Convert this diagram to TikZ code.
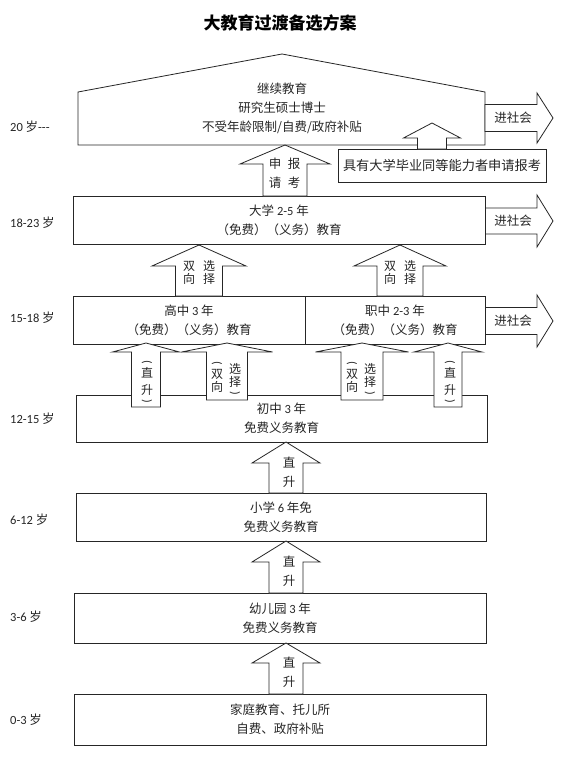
\documentclass[tikz,border=0pt]{standalone}
\usepackage{fontspec}
\setmainfont{Noto Sans CJK SC}
\newfontfamily\lat{Carlito}
\newcommand\blockup[6]{% cx, tip y, head base y, bottom y, shaft half, head half
  \filldraw[arr] ({#1-#5},#4) -- ({#1-#5},#3) -- ({#1-#6},#3) -- (#1,#2) -- ({#1+#6},#3) -- ({#1+#5},#3) -- ({#1+#5},#4) -- cycle;}
\newcommand\blockright[6]{% y center, x start, x head base, x tip, shaft half, head half
  \filldraw[arr] (#2,{#1-#5}) -- (#3,{#1-#5}) -- (#3,{#1-#6}) -- (#4,#1) -- (#3,{#1+#6}) -- (#3,{#1+#5}) -- (#2,{#1+#5}) -- cycle;}
\tikzset{
  box/.style={draw=black!85, line width=0.8pt, fill=white, inner sep=0pt, outer sep=0pt, align=center,
    font=\fontsize{12.5}{19}\selectfont, text=black!85},
  arr/.style={draw=black!85, line width=0.8pt, fill=white},
  txt/.style={inner sep=0pt, align=center, font=\fontsize{12.5}{19}\selectfont, text=black!85},
  vt/.style={inner sep=0pt, font=\fontsize{12}{13}\selectfont, text=black!85},
  lab/.style={inner sep=0pt, anchor=west, font=\fontsize{12.5}{15}\selectfont, text=black!85},
}
\begin{document}
\begin{tikzpicture}[x=1pt,y=-1pt]
\useasboundingbox (0,0) rectangle (560,768);
\fill[white] (0,0) rectangle (560,768);

% title
\node[inner sep=0pt, font=\fontsize{17}{20}\selectfont\bfseries] (title) at (280,23) {大教育过渡备选方案};

% age labels
\node[lab] (l20) at (10,127) {{\lat 20} 岁{\lat -{}-{}-}};
\node[lab] (l18) at (10,223) {{\lat 18-23} 岁};
\node[lab] (l15) at (10,318) {{\lat 15-18} 岁};
\node[lab] (l12) at (10,419) {{\lat 12-15} 岁};
\node[lab] (l6)  at (10,520) {{\lat 6-12} 岁};
\node[lab] (l3)  at (10,617) {{\lat 3-6} 岁};
\node[lab] (l0)  at (10,720) {{\lat 0-3} 岁};

% continuing education (pentagon)
\filldraw[arr] (78,145) -- (78,92) -- (282,54) -- (485,92) -- (485,145) -- cycle;
\node[txt] (cont) at (282,108) {继续教育\\研究生硕士博士\\不受年龄限制/自费/政府补贴};

% right arrows
\blockright{118}{485}{537}{553}{13.5}{25}
\node[txt] (out1) at (513,118) {进社会};
\blockright{221}{485}{537}{553}{13}{26}
\node[txt] (out2) at (513,221) {进社会};
\blockright{321}{485}{537}{553}{13.5}{26}
\node[txt] (out3) at (513,321) {进社会};

% equivalent ability box
\node[box, minimum width=208, minimum height=33, font=\fontsize{13.2}{19}\selectfont] (equiv) at (442,165.5) {具有大学毕业同等能力者申请报考};
\blockup{432}{123}{138}{149}{14.5}{28.5}

% university
\node[box, minimum width=412, minimum height=48] (univ) at (279,220) {大学 {\lat 2-5} 年\\（免费）（义务）教育};
\blockup{285}{145}{164}{196}{22}{45}
\node[txt] at (275,164) {申}; \node[txt] at (294,164) {报};
\node[txt] at (275,183) {请}; \node[txt] at (294,183) {考};

% high school / vocational
\node[box, minimum width=232, minimum height=48] (hs) at (189,320) {高中 {\lat 3} 年\\（免费）（义务）教育};
\node[box, minimum width=180, minimum height=48] (vs) at (395,320) {职中 {\lat 2-3} 年\\（免费）（义务）教育};

\blockup{199}{245}{266}{296}{23.5}{47}
\node[vt] at (189,266) {双}; \node[vt] at (209,266) {选};
\node[vt] at (189,279) {向}; \node[vt] at (209,279) {择};
\blockup{400}{245}{266}{296}{23}{46}
\node[vt] at (390,266) {双}; \node[vt] at (410,266) {选};
\node[vt] at (390,279) {向}; \node[vt] at (410,279) {择};

% junior middle school
\node[box, minimum width=411, minimum height=47] (jr) at (281.5,418.5) {初中 {\lat 3} 年\\免费义务教育};

\blockup{146}{343}{352}{407}{14.5}{33.5}
\node[vt, rotate=-90] at (147,362) {\lat (};
\node[vt] at (147,373) {直}; \node[vt] at (147,390) {升};
\node[vt, rotate=-90] at (147,401) {\lat )};

\blockup{227}{343}{352}{400}{20.5}{45.5}
\node[vt, rotate=-90] at (217,363) {\lat (};
\node[vt] at (217,374) {双}; \node[vt] at (217,387) {向};
\node[vt] at (235,369) {选}; \node[vt] at (235,382) {择};
\node[vt, rotate=-90] at (235,393) {\lat )};

\blockup{362}{343}{352}{400}{21}{46.5}
\node[vt, rotate=-90] at (352,363) {\lat (};
\node[vt] at (352,374) {双}; \node[vt] at (352,387) {向};
\node[vt] at (370,369) {选}; \node[vt] at (370,382) {择};
\node[vt, rotate=-90] at (370,393) {\lat )};

\blockup{448}{343}{352}{407}{14}{34}
\node[vt, rotate=-90] at (450,362) {\lat (};
\node[vt] at (450,373) {直}; \node[vt] at (450,390) {升};
\node[vt, rotate=-90] at (450,401) {\lat )};

% primary
\node[box, minimum width=410, minimum height=48] (pri) at (281,517) {小学 {\lat 6} 年免\\免费义务教育};
\blockup{286}{442}{463}{493}{17}{34}
\node[txt] at (289,463) {直}; \node[txt] at (289,482) {升};

% kindergarten
\node[box, minimum width=412, minimum height=50] (kin) at (280,618) {幼儿园 {\lat 3} 年\\免费义务教育};
\blockup{286}{541}{562}{593}{17}{34}
\node[txt] at (289,562) {直}; \node[txt] at (289,581) {升};

% home
\node[box, minimum width=412, minimum height=51] (home) at (280,719.5) {家庭教育、托儿所\\自费、政府补贴};
\blockup{286}{643}{663}{694}{17}{34}
\node[txt] at (289,663) {直}; \node[txt] at (289,682) {升};
\end{tikzpicture}
\end{document}
